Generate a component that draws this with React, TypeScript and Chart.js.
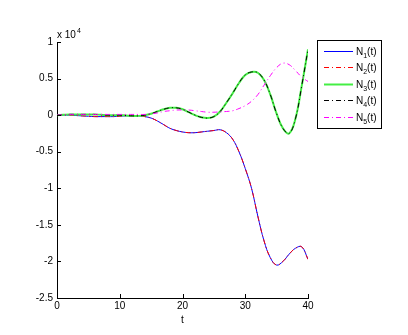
import React, { useEffect, useRef } from "react";
import { Chart, registerables } from "chart.js";

Chart.register(...registerables);

// time samples
const tValues = [
  0, 1, 2, 3, 4, 5, 6, 7, 8, 9, 10, 11, 12, 13, 14, 15, 16, 17, 18, 19, 20,
  21, 22, 23, 24, 25, 26, 27, 28, 29, 30, 31, 32, 33, 34, 35, 36, 37, 38, 39, 40,
];

// values in units of 10^4
const n1Values = [
  0, 0, 0, -0.005, -0.01, -0.015, -0.02, -0.02, -0.02, -0.02, -0.015, -0.01,
  -0.01, -0.01, -0.02, -0.04, -0.08, -0.13, -0.18, -0.21, -0.23, -0.24, -0.24,
  -0.23, -0.22, -0.21, -0.2, -0.24, -0.33, -0.5, -0.73, -1.0, -1.38, -1.72,
  -1.95, -2.05, -2.0, -1.9, -1.82, -1.8, -1.97,
];
const n2Values = n1Values.slice();
const n3Values = [
  0, 0.005, 0.01, 0.01, 0.01, 0.01, 0.01, 0.005, 0, 0, 0, -0.005, -0.01, -0.01,
  0, 0.02, 0.05, 0.08, 0.1, 0.1, 0.08, 0.04, 0, -0.03, -0.04, -0.02, 0.05, 0.17,
  0.3, 0.44, 0.55, 0.59, 0.58, 0.48, 0.28, 0.02, -0.18, -0.25, -0.05, 0.4, 0.9,
];
const n4Values = n3Values.slice();
const n5Values = [
  0, 0.005, 0.01, 0.01, 0.01, 0.01, 0.01, 0.01, 0.01, 0.01, 0.01, 0.01, 0.01,
  0.01, 0.01, 0.02, 0.03, 0.05, 0.06, 0.07, 0.07, 0.07, 0.06, 0.05, 0.04, 0.04,
  0.045, 0.05, 0.06, 0.09, 0.13, 0.19, 0.28, 0.41, 0.54, 0.65, 0.71, 0.69,
  0.61, 0.52, 0.46,
];

const seriesLabels = ["N1(t)", "N2(t)", "N3(t)", "N4(t)", "N5(t)"];
const xTickStep = 10;
const yTickStep = 0.5;
const exponentLabel = "x 10";
const exponentPower = "4";
const xTitle = "t";

const FONT = "'Liberation Sans', Arial, Helvetica, sans-serif";
const DASHDOT = [5, 3, 1, 3];

const styles = [
  { color: "#0000ff", width: 1, dash: [] as number[] },
  { color: "#ff0000", width: 1, dash: DASHDOT },
  { color: "#44ee44", width: 2, dash: [] as number[] },
  { color: "#000000", width: 1, dash: DASHDOT },
  { color: "#ff00ff", width: 1, dash: DASHDOT },
];

const matlabPlugin = {
  id: "matlabDecor",
  afterDraw(chart: any) {
    const ctx = chart.ctx;
    const area = chart.chartArea;
    const xs = chart.scales.x;
    const ys = chart.scales.y;
    ctx.save();
    ctx.strokeStyle = "#000";
    ctx.lineWidth = 1;
    ctx.setLineDash([]);
    // inward ticks
    xs.ticks.forEach((t: any) => {
      const px = Math.round(xs.getPixelForValue(t.value)) + 0.5;
      ctx.beginPath();
      ctx.moveTo(px, area.bottom);
      ctx.lineTo(px, area.bottom - 4);
      ctx.stroke();
    });
    ys.ticks.forEach((t: any) => {
      const py = Math.round(ys.getPixelForValue(t.value)) + 0.5;
      ctx.beginPath();
      ctx.moveTo(area.left, py);
      ctx.lineTo(area.left + 4, py);
      ctx.stroke();
    });
    // exponent label
    ctx.fillStyle = "#000";
    ctx.textBaseline = "alphabetic";
    ctx.textAlign = "left";
    ctx.font = `10px ${FONT}`;
    ctx.fillText(exponentLabel, area.left, 38);
    const w = ctx.measureText(exponentLabel).width;
    ctx.font = `7px ${FONT}`;
    ctx.fillText(exponentPower, area.left + w + 1, 33);

    // legend
    const bx = 317.5, by = 40.5, bw = 64, bh = 88;
    ctx.fillStyle = "#fff";
    ctx.fillRect(bx, by, bw, bh);
    ctx.strokeStyle = "#000";
    ctx.lineWidth = 1;
    ctx.strokeRect(bx, by, bw, bh);
    chart.data.datasets.forEach((ds: any, i: number) => {
      const y = 51 + i * 16.4;
      const st = styles[i];
      ctx.strokeStyle = st.color;
      ctx.lineWidth = st.width;
      ctx.setLineDash(st.dash);
      ctx.beginPath();
      ctx.moveTo(324, Math.round(y) + 0.5);
      ctx.lineTo(353, Math.round(y) + 0.5);
      ctx.stroke();
      ctx.setLineDash([]);
      const label: string = ds.label;
      const m = label.match(/^([A-Za-z]+)(\d+)(.*)$/);
      ctx.fillStyle = "#000";
      ctx.textBaseline = "alphabetic";
      let x = 356;
      if (m) {
        ctx.font = `10px ${FONT}`;
        ctx.fillText(m[1], x, y + 4);
        x += ctx.measureText(m[1]).width;
        ctx.font = `7px ${FONT}`;
        ctx.fillText(m[2], x, y + 7);
        x += ctx.measureText(m[2]).width;
        ctx.font = `10px ${FONT}`;
        ctx.fillText(m[3], x, y + 4);
      } else {
        ctx.font = `10px ${FONT}`;
        ctx.fillText(label, x, y + 4);
      }
    });
    ctx.restore();
  },
};

export default function App() {
  const ref = useRef<HTMLCanvasElement | null>(null);

  useEffect(() => {
    if (!ref.current) return;
    const seriesValues = [n1Values, n2Values, n3Values, n4Values, n5Values];
    const orders = [5, 4, 3, 2, 1];
    const chart = new Chart(ref.current, {
      type: "line",
      data: {
        datasets: seriesValues.map((vals, i) => ({
          label: seriesLabels[i],
          data: tValues.map((t, k) => ({ x: t, y: vals[k] })),
          borderColor: styles[i].color,
          borderWidth: styles[i].width,
          borderDash: styles[i].dash,
          pointRadius: 0,
          fill: false,
          tension: 0.4,
          order: orders[i],
        })),
      },
      options: {
        animation: false,
        responsive: false,
        devicePixelRatio: 1,
        layout: { padding: { left: 0, top: 42, right: 100, bottom: 0 } },
        plugins: { legend: { display: false }, tooltip: { enabled: false } },
        scales: {
          x: {
            type: "linear",
            min: 0,
            max: 40,
            ticks: {
              stepSize: xTickStep,
              color: "#000",
              font: { family: FONT, size: 10 },
              padding: 2,
              maxRotation: 0,
            },
            grid: { display: false, drawTicks: false, tickLength: 0 },
            border: { display: true, color: "#000", width: 1 },
            title: {
              display: true,
              text: xTitle,
              color: "#000",
              font: { family: FONT, size: 10 },
              padding: { top: 0, bottom: 9 },
            },
            afterFit: (s: any) => {
              s.height = 37;
            },
          },
          y: {
            type: "linear",
            min: -2.5,
            max: 1,
            ticks: {
              stepSize: yTickStep,
              color: "#000",
              font: { family: FONT, size: 10 },
              padding: 4,
              callback: (v: any) => String(Math.round(Number(v) * 10) / 10),
            },
            grid: { display: false, drawTicks: false, tickLength: 0 },
            border: { display: true, color: "#000", width: 1 },
            afterFit: (s: any) => {
              s.width = 57;
            },
          },
        },
      },
      plugins: [matlabPlugin],
    });
    return () => chart.destroy();
  }, []);

  return (
    <div style={{ position: "fixed", left: 0, top: 0, width: 408, height: 335, background: "#fff" }}>
      <canvas ref={ref} width={408} height={335} style={{ width: 408, height: 335, display: "block" }} />
    </div>
  );
}
